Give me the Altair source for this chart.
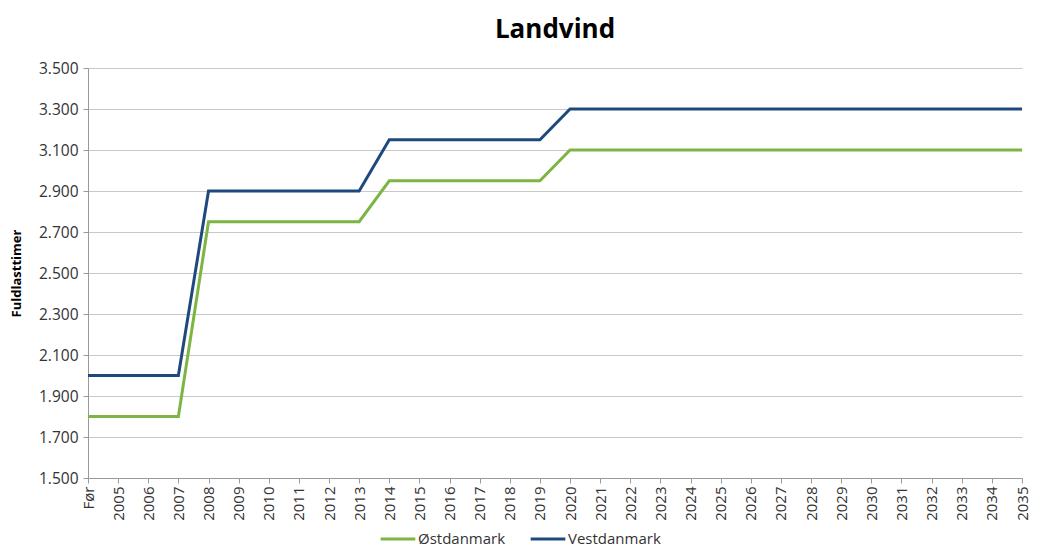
import altair as alt
import pandas as pd

categories = ["Før"] + [str(y) for y in range(2005, 2036)]
ost = [1800, 1800, 1800, 1800] + [2750] * 6 + [2950] * 6 + [3100] * 16
vest = [2000, 2000, 2000, 2000] + [2900] * 6 + [3150] * 6 + [3300] * 16
series_names = ["Østdanmark", "Vestdanmark"]
colors = ["#7DB544", "#1F497D"]

rows = []
for name, vals in zip(series_names, [ost, vest]):
    for c, v in zip(categories, vals):
        rows.append({"År": c, "Fuldlasttimer": v, "Serie": name})
df = pd.DataFrame(rows)

font = "Open Sans"

chart = alt.Chart(df).mark_line(strokeWidth=3).encode(
    x=alt.X("År:O", sort=categories, title=None,
            scale=alt.Scale(type="point", padding=0),
            axis=alt.Axis(labelAngle=-90, labelFontSize=15, labelColor="#333333",
                          labelFont=font, domainColor="#999999", tickColor="#999999",
                          tickSize=5, labelPadding=3, grid=False)),
    y=alt.Y("Fuldlasttimer:Q", title="Fuldlasttimer",
            scale=alt.Scale(domain=[1500, 3500], nice=False, zero=False),
            axis=alt.Axis(values=list(range(1500, 3501, 200)),
                          labelExpr="replace(format(datum.value, ','), ',', '.')",
                          labelFontSize=15.5, labelColor="#333333", labelFont=font,
                          titleFont=font, titleFontSize=13, titleFontWeight="bold",
                          titleColor="#000000", titlePadding=15,
                          domainColor="#999999", tickColor="#999999", tickSize=5,
                          gridColor="#C8C8C8", labelPadding=5)),
    color=alt.Color("Serie:N", sort=series_names, title=None,
                    scale=alt.Scale(domain=series_names, range=colors),
                    legend=alt.Legend(orient="none", legendX=291, legendY=452,
                                      direction="horizontal", symbolType="stroke",
                                      symbolStrokeWidth=3, symbolSize=1200,
                                      labelFontSize=15, labelFont=font,
                                      labelColor="#333333", columnPadding=18,
                                      labelOffset=1)),
).properties(
    width=934,
    height=410,
    title=alt.TitleParams("Landvind", fontSize=26, fontWeight="bold", font=font,
                          color="#000000", offset=18, anchor="middle"),
    padding={"left": 80, "top": 60, "right": 8, "bottom": 69},
    autosize=alt.AutoSizeParams(type="none"),
).configure_view(stroke=None)

chart.save("out.html", embed_options={"renderer": "svg", "actions": False})
